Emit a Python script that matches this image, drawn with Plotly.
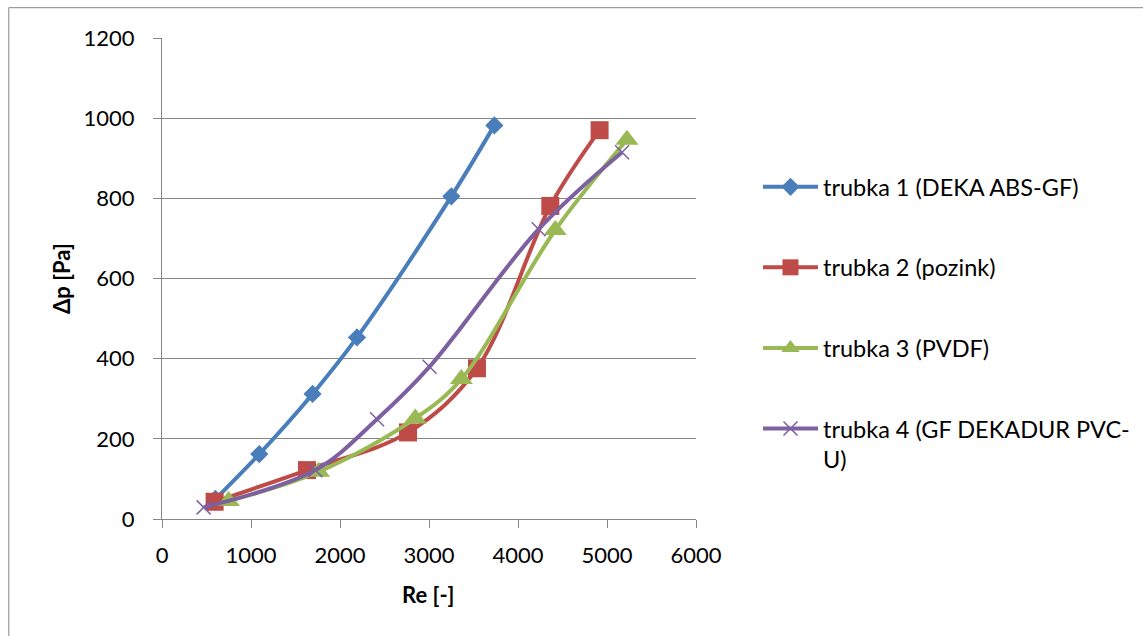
import plotly.graph_objects as go

re_1 = [600, 1093, 1692, 2191, 3251, 3734]
dp_1 = [50, 162, 312, 453, 805, 982]
re_2 = [591, 1629, 2764, 3539, 4363, 4917]
dp_2 = [43, 122, 216, 376, 781, 970]
re_3 = [748, 1760, 2846, 3363, 4419, 5224]
dp_3 = [45, 118, 251, 349, 721, 946]
re_4 = [468, 1723, 2416, 3007, 4232, 5169]
dp_4 = [29, 122, 249, 380, 723, 915]

names = ["trubka 1 (DEKA ABS-GF)", "trubka 2 (pozink)", "trubka 3 (PVDF)",
         "trubka 4 (GF DEKADUR PVC-<br>U)"]
x_ticks = [0, 1000, 2000, 3000, 4000, 5000, 6000]
y_ticks = [0, 200, 400, 600, 800, 1000, 1200]

FONT = "Lato"
GRID = "#868686"

fig = go.Figure()
styles = [
    dict(color="#4A7EBB", symbol="diamond", size=14),
    dict(color="#BE4B48", symbol="square", size=18),
    dict(color="#98B954", symbol="triangle-up", size=20),
    dict(color="#7D60A0", symbol="x-thin", size=14),
]
for i, (xs, ys) in enumerate([(re_1, dp_1), (re_2, dp_2), (re_3, dp_3), (re_4, dp_4)]):
    st = styles[i]
    if st["symbol"] == "x-thin":
        marker = dict(symbol="x-thin", size=st["size"], color=st["color"],
                      line=dict(color=st["color"], width=1.5))
    else:
        marker = dict(symbol=st["symbol"], size=st["size"], color=st["color"],
                      line=dict(color=st["color"], width=0))
    fig.add_trace(go.Scatter(
        x=xs, y=ys, name=names[i], mode="lines+markers",
        line=dict(color=st["color"], width=4, shape="spline", smoothing=1),
        marker=marker, legendgroup=f"g{i}",
    ))

fig.update_layout(
    width=1143, height=636,
    margin=dict(l=162, r=447, t=38, b=117, autoexpand=False),
    paper_bgcolor="white", plot_bgcolor="white",
    font=dict(family=FONT, size=22, color="black"),
    showlegend=True,
    legend=dict(xref="container", yref="container",
                x=758 / 1143, y=1 - 165 / 636, xanchor="left", yanchor="top",
                tracegroupgap=47, itemwidth=55, valign="top",
                font=dict(family=FONT, size=23.5, color="black"),
                bgcolor="rgba(0,0,0,0)"),
    xaxis=dict(range=[0, 6000], tickvals=x_ticks, showgrid=False, zeroline=False,
               showline=True, linecolor=GRID, linewidth=1,
               ticks="outside", ticklen=8, tickcolor=GRID, tickwidth=1,
               ticklabelstandoff=9, tickfont=dict(size=22)),
    yaxis=dict(range=[0, 1200], tickvals=y_ticks, showgrid=True, gridcolor=GRID,
               gridwidth=1, zeroline=False,
               showline=True, linecolor=GRID, linewidth=1,
               ticks="outside", ticklen=8, tickcolor=GRID, tickwidth=1,
               ticklabelstandoff=14, tickfont=dict(size=22)),
    annotations=[
        dict(text="<b>Re [-]</b>", xref="paper", yref="paper",
             x=(428 - 161.7) / 534, y=(519.3 - 595) / 481,
             xanchor="center", yanchor="middle", showarrow=False,
             font=dict(size=22)),
        dict(text="<b>Δp [Pa]</b>", xref="paper", yref="paper",
             x=(61 - 161.7) / 534, y=(519.3 - 279) / 481, textangle=-90,
             xanchor="center", yanchor="middle", showarrow=False,
             font=dict(size=22)),
    ],
    shapes=[dict(type="rect", xref="paper", yref="paper",
                 x0=(8.5 - 161.7) / 534, x1=2.0,
                 y0=-1.0, y1=(519.3 - 8.0) / 481,
                 line=dict(color=GRID, width=1), fillcolor="rgba(0,0,0,0)",
                 layer="below")],
)

fig.write_html("out.html")
